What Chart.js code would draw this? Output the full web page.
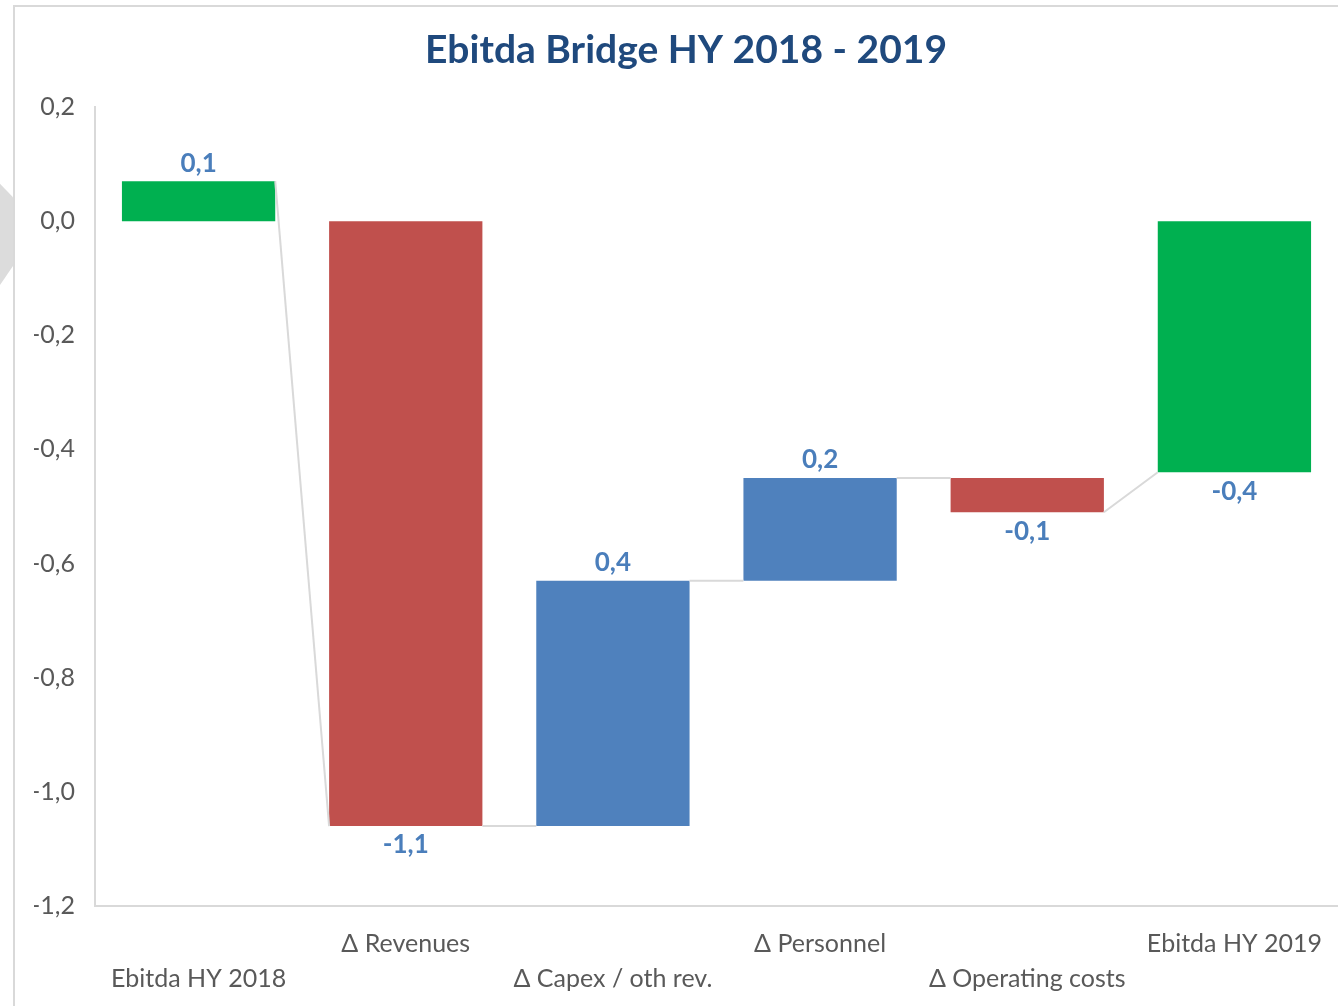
<!DOCTYPE html>
<html>
<head>
<meta charset="utf-8">
<script src="https://cdn.jsdelivr.net/npm/chart.js@4.4.1/dist/chart.umd.min.js"></script>
<style>
  body { margin: 0; background: #fff; }
  #frame {
    position: absolute; left: 13px; top: 5px; width: 1325px; height: 1001px;
    border-top: 2px solid #d9d9d9; border-left: 2px solid #d9d9d9; box-sizing: border-box;
  }
  #wedge {
    position: absolute; left: 0; top: 150px; width: 13px; height: 135px;
    background: #dcdcdc; clip-path: polygon(0 25%, 100% 35%, 100% 86%, 0 100%);
  }
  #wrap { position: absolute; left: 13px; top: 5px; width: 1325px; height: 1001px; }
</style>
</head>
<body>
<div id="wedge"></div>
<div id="frame"></div>
<div id="wrap"><canvas id="myChart"></canvas></div>
<script>
const categories = [
    ['', 'Ebitda HY 2018'],
    ['Δ Revenues', ''],
    ['', 'Δ Capex / oth rev.'],
    ['Δ Personnel', ''],
    ['', 'Δ Operating costs'],
    ['Ebitda HY 2019', '']
];
// floating bars: where each bar starts and ends
const barFrom = [0, 0, -1.06, -0.63, -0.45, 0];
const barTo = [0.07, -1.06, -0.63, -0.45, -0.51, -0.44];
// gray connectors between bar i and bar i+1
const linkFrom = [0.07, -1.06, -0.63, -0.45, -0.51];
const linkTo = [-1.06, -1.06, -0.63, -0.45, -0.44];
const barColors = ['#00B050', '#C0504D', '#4F81BD', '#4F81BD', '#C0504D', '#00B050'];
const yTicks = [0.2, 0, -0.2, -0.4, -0.6, -0.8, -1.0, -1.2];

const fmt = v => {
    let s = (Math.round(v * 10) / 10).toFixed(1);
    if (s === '-0.0') s = '0.0';
    return s.replace('.', ',');
};

const barData = barFrom.map((v, i) => [v, barTo[i]]);

// connectors + value labels
const bridgePlugin = {
    id: 'bridge',
    afterDatasetsDraw(chart) {
        const ctx = chart.ctx;
        const y = chart.scales.y;
        const bars = chart.getDatasetMeta(0).data;
        ctx.save();
        ctx.strokeStyle = '#d9d9d9';
        ctx.lineWidth = 2;
        for (let i = 0; i < linkFrom.length; i++) {
            const a = bars[i], b = bars[i + 1];
            ctx.beginPath();
            ctx.moveTo(a.x + a.width / 2, y.getPixelForValue(linkFrom[i]));
            ctx.lineTo(b.x - b.width / 2, y.getPixelForValue(linkTo[i]));
            ctx.stroke();
        }
        ctx.fillStyle = '#4a7ebb';
        ctx.font = 'bold 26px Lato';
        ctx.textAlign = 'center';
        ctx.textBaseline = 'middle';
        bars.forEach((bar, i) => {
            const delta = barTo[i] - barFrom[i];
            const top = y.getPixelForValue(Math.max(barFrom[i], barTo[i]));
            const bottom = y.getPixelForValue(Math.min(barFrom[i], barTo[i]));
            const ly = delta >= 0 ? top - 18 : bottom + 19;
            ctx.fillText(fmt(delta), bar.x, ly);
        });
        ctx.restore();
    }
};

const ctx = document.getElementById('myChart');
new Chart(ctx, {
    type: 'bar',
    data: {
        labels: categories,
        datasets: [{
            data: barData,
            backgroundColor: barColors,
            borderWidth: 0,
            barPercentage: 0.74,
            categoryPercentage: 1
        }]
    },
    options: {
        responsive: true,
        maintainAspectRatio: false,
        animation: false,
        layout: { padding: { left: 21, right: 0, top: 0, bottom: 0 } },
        plugins: {
            legend: { display: false },
            tooltip: { enabled: false },
            title: {
                display: true,
                text: 'Ebitda Bridge HY 2018 - 2019',
                color: '#1F497D',
                font: { family: 'Lato', size: 39, weight: 'bold', lineHeight: 1.2 },
                padding: { top: 22, bottom: 33.2 }
            }
        },
        scales: {
            x: {
                grid: { display: false, drawTicks: false },
                border: { display: true, color: '#d9d9d9', width: 2 },
                ticks: {
                    color: '#595959',
                    font: { family: 'Lato', size: 25, lineHeight: 1.4 },
                    padding: 20,
                    autoSkip: false,
                    maxRotation: 0
                },
                afterFit: s => { s.height = 100; s.paddingLeft = 0; s.paddingRight = 0; }
            },
            y: {
                min: -1.2,
                max: 0.2,
                afterBuildTicks: s => { s.ticks = yTicks.map(v => ({ value: v })); },
                grid: { display: false, drawTicks: false },
                border: { display: true, color: '#d9d9d9', width: 2 },
                ticks: {
                    color: '#595959',
                    font: { family: 'Lato', size: 25 },
                    padding: 20,
                    callback: v => fmt(v)
                },
                afterFit: s => { s.width = 61; }
            }
        }
    },
    plugins: [bridgePlugin]
});
</script>
</body>
</html>
